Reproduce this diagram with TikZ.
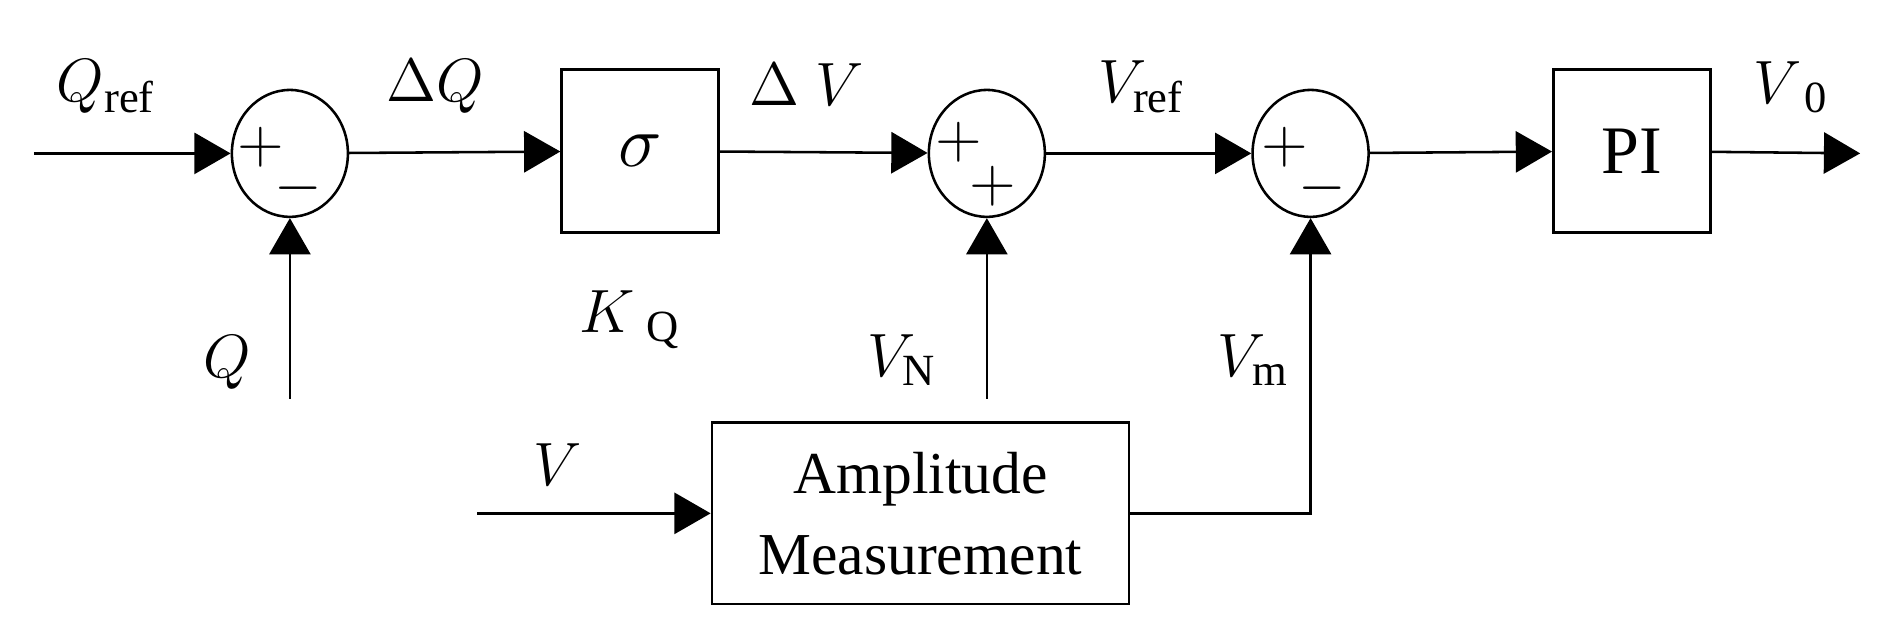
\documentclass[tikz,border=0pt]{standalone}
\usepackage{fontspec}
\setmainfont{Liberation Serif}
\usetikzlibrary{
  arrows.meta, % for the filled triangle tips
  positioning, % for relative placement
  shapes.geometric % for the summing junctions
}
\tikzset{
  sum/.style={ % style for the summing junctions
    ellipse,draw,semithick,
    minimum width=0.96cm,minimum height=1.05cm,inner sep=0pt,
  },
  block/.style={ % style for the transfer blocks
    rectangle,draw,semithick,
    minimum width=1.3cm,minimum height=1.35cm,
  },
  conn/.style={ % style for the signal lines
    -{Triangle[length=0.3cm,width=0.34cm]},semithick,
  },
  lbl/.style={font=\fontsize{15}{17}\selectfont,inner sep=0pt},
  sgn/.style={font=\fontsize{14}{16}\selectfont,inner sep=0pt},
}
\begin{document}
\begin{tikzpicture}[x=0.01cm,y=-0.01cm]
  \useasboundingbox (0,0) rectangle (1568,528);
  \node[sum] (s1) at (240,127) {};
  \node[block] (sig) at (530,125) {\fontsize{16}{18}\selectfont$\sigma$};
  \node[sum] (s2) at (817,127) {};
  \node[sum] (s3) at (1085,127) {};
  \node[block] (pi) at (1351,125) {\fontsize{16}{18}\selectfont PI};
  \node[rectangle,draw,semithick,minimum width=3.45cm,minimum height=1.5cm,align=center,
        lbl,font=\fontsize{14}{19}\selectfont] (am) at (762,425) {Amplitude\\Measurement};
  \coordinate (qin) at (28,127);
  \coordinate (q) at (240,330);
  \coordinate (vn) at (817,330);
  \coordinate (v) at (395,425);
  \coordinate (out) at (1540,127);
  % signal lines
  \draw[conn] (qin) -- (s1);
  \draw[conn] (s1) -- (sig);
  \draw[conn] (sig) -- (s2);
  \draw[conn] (s2) -- (s3);
  \draw[conn] (s3) -- (pi);
  \draw[conn] (pi) -- (out);
  \draw[conn] (q) -- (s1);
  \draw[conn] (vn) -- (s2);
  \draw[conn] (v) -- (am);
  \draw[conn] (am.east) -| (s3.south);
  % signs
  \node[sgn] (p1) at (216,122) {$+$};
  \node[sgn] (m1) at (247,156) {$-$};
  \node[sgn] (p2) at (794,118) {$+$};
  \node[sgn] (p2b) at (822,154) {$+$};
  \node[sgn] (p3) at (1064,122) {$+$};
  \node[sgn] (m3) at (1095,156) {$-$};
  % labels
  \node[lbl] (lqref) at (88,72) {$Q_{\mathrm{ref}}$};
  \node[lbl] (ldq) at (360,72) {$\Delta Q$};
  \node[lbl] (ldv) at (668,70) {$\Delta\ V$};
  \node[lbl] (lvref) at (945,72) {$V_{\mathrm{ref}}$};
  \node[lbl] (lv0) at (1483,72) {$V_{\ \mathrm{0}}$};
  \node[lbl] (lq) at (188,300) {$Q$};
  \node[lbl] (lkq) at (522,265) {$K_{\ \mathrm{Q}}$};
  \node[lbl] (lvn) at (747,298) {$V_{\mathrm{N}}$};
  \node[lbl] (lvm) at (1038,298) {$V_{\mathrm{m}}$};
  \node[lbl] (lv) at (462,385) {$V$};
\end{tikzpicture}
\end{document}
